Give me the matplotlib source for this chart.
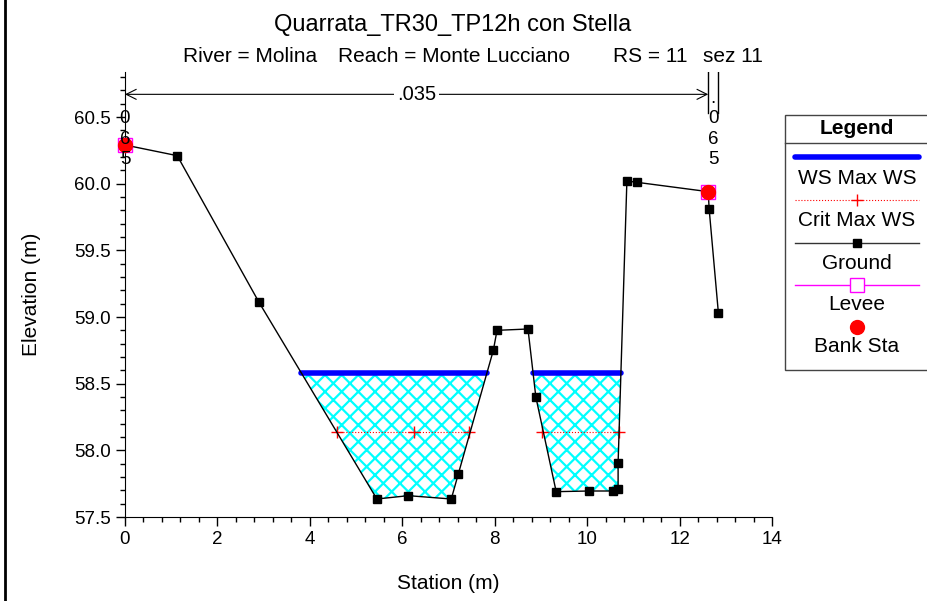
import numpy as np
import matplotlib
matplotlib.use('Agg')
import matplotlib.pyplot as plt
from matplotlib.lines import Line2D
from matplotlib.patches import Rectangle
from matplotlib.ticker import MultipleLocator, FormatStrFormatter

plt.rcParams['font.family'] = ['Liberation Sans', 'DejaVu Sans']
plt.rcParams['hatch.linewidth'] = 1.6

# Cross section data
station = [0.0, 1.13, 2.90, 5.45, 6.13, 7.06, 7.21, 7.97, 8.05, 8.72, 8.89, 9.33,
           10.04, 10.56, 10.67, 10.67, 10.86, 11.08, 12.62, 12.64, 12.84]
ground = [60.29, 60.21, 59.11, 57.635, 57.66, 57.635, 57.82, 58.75, 58.90, 58.91, 58.40, 57.69,
          57.695, 57.695, 57.71, 57.905, 60.02, 60.01, 59.94, 59.81, 59.03]
ws_max = 58.58
crit_ws = 58.14
crit_sta = [[4.59, 6.26, 7.45], [9.03, 10.69]]
bank_sta = [0.0, 12.62]
bank_elev = [60.29, 59.94]
levee_sta = [0.0, 12.62]
levee_elev = [60.29, 59.94]
n_bounds = [0.0, 0.0, 12.62, 12.84]
n_values = ['.065', '.035', '.065']

title = 'Quarrata_TR30_TP12h con Stella'
subtitle_parts = ['River = Molina', 'Reach = Monte Lucciano', 'RS = 11', 'sez 11']
subtitle_px = [183, 338, 613, 703]


def crossings(x, y, level):
    # wet reaches where the ground line dips under a level
    x = np.asarray(x)
    y = np.asarray(y)
    pts = []
    for i in range(len(x) - 1):
        if (y[i] - level) * (y[i + 1] - level) < 0:
            t = (level - y[i]) / (y[i + 1] - y[i])
            pts.append(x[i] + t * (x[i + 1] - x[i]))
    return [(pts[k], pts[k + 1]) for k in range(0, len(pts) - 1, 2)]


W, H = 928, 601
def fx(px):
    return px / W
def fy(py):
    return 1 - py / H


fig = plt.figure(figsize=(9.28, 6.01), dpi=100)
ax = fig.add_axes([fx(125), fy(517), (772 - 125) / W, (517 - 72) / H])

sx = np.array(station)
gy = np.array(ground)

# water fill
ax.fill_between(sx, gy, ws_max, where=gy < ws_max, interpolate=True,
                facecolor='white', edgecolor='cyan', hatch='xx', linewidth=0, zorder=1)

for a, b in crossings(station, ground, ws_max):
    ax.plot([a, b], [ws_max, ws_max], color='blue', lw=4, solid_capstyle='round', zorder=3)

for pts in crit_sta:
    ax.plot(pts, [crit_ws] * len(pts), color='red', lw=0.8, ls=':', marker='+',
            markersize=9, markeredgewidth=1, zorder=3)

ax.plot(station, ground, color='black', lw=1, marker='s', markersize=5.5, zorder=4, clip_on=False)
ax.plot(levee_sta, levee_elev, ls='none', marker='s', markersize=10, markerfacecolor='none',
        markeredgecolor='magenta', markeredgewidth=1, zorder=5, clip_on=False)
ax.plot(bank_sta, bank_elev, ls='none', marker='o', markersize=10, color='red', zorder=6,
        clip_on=False)

ax.set_xlim(0, 14)
ax.set_ylim(57.5, 60.8375)
ax.xaxis.set_major_locator(MultipleLocator(2))
ax.xaxis.set_minor_locator(MultipleLocator(0.4))
ax.set_yticks([57.5, 58.0, 58.5, 59.0, 59.5, 60.0, 60.5])
ax.yaxis.set_minor_locator(MultipleLocator(0.1))
ax.yaxis.set_major_formatter(FormatStrFormatter('%.1f'))
ax.tick_params(which='major', length=6.5, width=1, labelsize=13.5)
ax.tick_params(which='minor', length=3.5, width=1)
ax.spines['top'].set_visible(False)
ax.spines['right'].set_visible(False)
ax.set_xlabel('Station (m)', fontsize=15, labelpad=19)
ax.set_ylabel('Elevation (m)', fontsize=15, labelpad=24)

# Manning's n values above the section
y_top = 60.8375
y_arrow = 60.67
for xb in n_bounds[2:]:
    ax.plot([xb, xb], [y_top, 60.53], color='black', lw=1)
ax.annotate('', xy=(n_bounds[1], y_arrow), xytext=(n_bounds[2], y_arrow),
            arrowprops=dict(arrowstyle='<->', color='black', lw=0.8, shrinkA=0, shrinkB=0,
                            mutation_scale=18))
ax.text((n_bounds[1] + n_bounds[2]) / 2, y_arrow, n_values[1], ha='center', va='center',
        fontsize=14.5, bbox=dict(facecolor='white', edgecolor='none', pad=2))
ax.text(n_bounds[0], 60.335, '\n'.join(n_values[0][1:]), ha='center', va='center',
        fontsize=13.5, linespacing=1.25, zorder=8)
xr = (n_bounds[2] + n_bounds[3]) / 2
ax.text(xr, 60.335, '\n'.join(n_values[2][1:]), ha='center', va='center',
        fontsize=13.5, linespacing=1.25, zorder=8)
ax.text(xr, 60.605, '.', ha='center', va='baseline', fontsize=13.5)

fig.text(fx(453), fy(25), title, ha='center', va='center', fontsize=17)
for part, px in zip(subtitle_parts, subtitle_px):
    fig.text(fx(px), fy(56), part, ha='left', va='center', fontsize=15)

# legend box drawn by hand
fig.add_artist(Rectangle((fx(785), fy(370)), fx(160), fy(115) - fy(370), transform=fig.transFigure,
                         facecolor='white', edgecolor='#444444', lw=1))
fig.add_artist(Line2D([fx(785), fx(930)], [fy(143), fy(143)], transform=fig.transFigure,
                      color='#444444', lw=1))
cx = 857
fs = 15
fig.text(fx(cx), fy(128), 'Legend', ha='center', va='center', fontsize=fs, fontweight='bold')
lx = [fx(795), fx(919)]
fig.add_artist(Line2D(lx, [fy(157)] * 2, transform=fig.transFigure, color='blue', lw=4,
                      solid_capstyle='round'))
fig.text(fx(cx), fy(178), 'WS Max WS', ha='center', va='center', fontsize=fs)
fig.add_artist(Line2D(lx, [fy(200)] * 2, transform=fig.transFigure, color='red', lw=0.8, ls=':'))
fig.add_artist(Line2D([fx(cx)], [fy(200)], transform=fig.transFigure, color='red', marker='+',
                      markersize=9, markeredgewidth=1))
fig.text(fx(cx), fy(220), 'Crit Max WS', ha='center', va='center', fontsize=fs)
fig.add_artist(Line2D(lx, [fy(243)] * 2, transform=fig.transFigure, color='#333333', lw=1))
fig.add_artist(Line2D([fx(cx)], [fy(243)], transform=fig.transFigure, color='black', marker='s',
                      markersize=5.5))
fig.text(fx(cx), fy(263), 'Ground', ha='center', va='center', fontsize=fs)
fig.add_artist(Line2D(lx, [fy(285)] * 2, transform=fig.transFigure, color='magenta', lw=1))
fig.add_artist(Line2D([fx(cx)], [fy(285)], transform=fig.transFigure, marker='s', markersize=10,
                      markerfacecolor='white', markeredgecolor='magenta', markeredgewidth=1))
fig.text(fx(cx), fy(305), 'Levee', ha='center', va='center', fontsize=fs)
fig.add_artist(Line2D([fx(cx)], [fy(327)], transform=fig.transFigure, marker='o', markersize=10,
                      color='red'))
fig.text(fx(cx), fy(347), 'Bank Sta', ha='center', va='center', fontsize=fs)

# left frame edge
fig.add_artist(Line2D([fx(4.5), fx(4.5)], [0, 1], transform=fig.transFigure, color='black', lw=2))

fig.savefig('out.png', dpi=100)
